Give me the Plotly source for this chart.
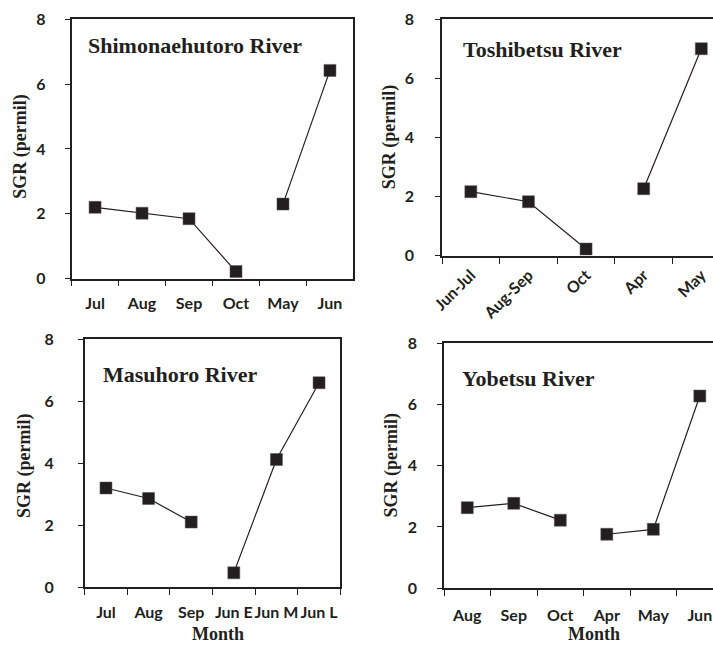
import plotly.graph_objects as go

W, H = 713, 646
# the photographed area is the page from its top-left corner, 16px larger than
# the figure (8px body margin each side), scaled down to 713x646; positions below
# are given in the final picture's pixels and mapped back to figure pixels
OFF = 8
SX = (W + 2 * OFF) / W
SY = (H + 2 * OFF) / H

# ---- data ----
shimo_months = ["Jul", "Aug", "Sep", "Oct", "May", "Jun"]
shimo_sgr = [2.2, 2.02, 1.85, 0.22, 2.3, 6.42]

toshi_months = ["Jun-Jul", "Aug-Sep", "Oct", "Apr", "May"]
toshi_sgr = [2.17, 1.83, 0.23, 2.27, 7.0]

masu_months = ["Jul", "Aug", "Sep", "Jun E", "Jun M", "Jun L"]
masu_sgr = [3.2, 2.86, 2.1, 0.46, 4.12, 6.6]

yobe_months = ["Aug", "Sep", "Oct", "Apr", "May", "Jun"]
yobe_sgr = [2.63, 2.77, 2.22, 1.76, 1.92, 6.28]

# index where the second (next-year) segment starts
shimo_split = 4
toshi_split = 3
masu_split = 3
yobe_split = 3

INK = "#231f20"


def px_x(p):
    return min(1.0, max(0.0, (p * SX - OFF) / W))


def px_y(p):
    return min(1.0, max(0.0, 1 - (p * SY - OFF) / H))


panels = [
    # name, months, values, split, x-domain px, y-domain px, x range end, mirror-right, tickangle, ystandoff, xstandoff
    ("Shimonaehutoro River", shimo_months, shimo_sgr, shimo_split, (68, 348), (17, 278), None, True, 0, 16, 9),
    ("Toshibetsu River", toshi_months, toshi_sgr, toshi_split, (436, 705), (17, 255), 4.2, False, -45, 18, 2),
    ("Masuhoro River", masu_months, masu_sgr, masu_split, (81, 335), (339, 588), None, True, 0, 21, 10),
    ("Yobetsu River", yobe_months, yobe_sgr, yobe_split, (438, 705), (343, 589), 5.28, False, 0, 17, 12),
]

fig = go.Figure()
layout = {}
for i, (name, months, vals, split, xd, yd, xend, mirr, tang, ysto, xsto) in enumerate(panels, start=1):
    xa = "x" if i == 1 else f"x{i}"
    ya = "y" if i == 1 else f"y{i}"
    for seg in (slice(0, split), slice(split, None)):
        fig.add_trace(go.Scatter(
            x=months[seg], y=vals[seg], xaxis=xa, yaxis=ya, mode="lines+markers",
            line=dict(color=INK, width=1.2),
            marker=dict(symbol="square", size=12, color=INK, line=dict(color="#555", width=0.5)),
            showlegend=False, hoverinfo="x+y",
        ))
    n = len(months)
    xr = [-0.5, xend if xend is not None else n - 0.5]
    xkey = "xaxis" if i == 1 else f"xaxis{i}"
    ykey = "yaxis" if i == 1 else f"yaxis{i}"
    layout[xkey] = dict(
        domain=[px_x(xd[0]), px_x(xd[1])], anchor=ya, type="category",
        categoryorder="array", categoryarray=months, range=xr,
        showline=True, linecolor=INK, linewidth=1.5, mirror=True,
        ticks="outside", tickson="boundaries", ticklen=6, tickwidth=1.2, tickcolor=INK,
        showgrid=False, zeroline=False, tickangle=tang,
        tickfont=dict(family="Lato", size=16, color=INK, weight="bold"),
        ticklabelstandoff=xsto,
    )
    layout[ykey] = dict(
        domain=[px_y(yd[1]), px_y(yd[0])], anchor=xa, range=[0, 8],
        tickvals=[0, 2, 4, 6, 8],
        showline=True, linecolor=INK, linewidth=1.5, mirror=mirr,
        ticks="outside", ticklen=5, tickwidth=1.2, tickcolor=INK,
        showgrid=False, zeroline=False,
        tickfont=dict(family="Lato", size=16, color=INK, weight="bold"),
        ticklabelstandoff=ysto,
    )

annotations = []
# panel titles (left edge px, center y px)
title_pos = [(83, 43), (456, 48), (98, 374), (455, 378)]
for (name, *_), (tx, ty) in zip(panels, title_pos):
    annotations.append(dict(
        text=name, x=px_x(tx), y=px_y(ty), xref="paper", yref="paper",
        xanchor="left", yanchor="middle", showarrow=False, borderpad=0,
        font=dict(family="Liberation Serif", size=22, color=INK, weight="bold"),
    ))
# y-axis titles
ytitle_pos = [(17, 145), (384, 136), (21, 466), (386, 466)]
for (tx, ty) in ytitle_pos:
    annotations.append(dict(
        text="SGR (permil)", x=px_x(tx), y=px_y(ty), xref="paper", yref="paper",
        xanchor="center", yanchor="middle", showarrow=False, textangle=-90,
        font=dict(family="Liberation Serif", size=18, color=INK, weight="bold"),
    ))
# x-axis titles
for (tx, ty) in [(213, 635), (587, 635)]:
    annotations.append(dict(
        text="Month", x=px_x(tx), y=px_y(ty), xref="paper", yref="paper",
        xanchor="center", yanchor="middle", showarrow=False,
        font=dict(family="Liberation Serif", size=18, color=INK, weight="bold"),
    ))

fig.update_layout(
    width=W, height=H, margin=dict(l=0, r=0, t=0, b=0),
    paper_bgcolor="white", plot_bgcolor="white",
    annotations=annotations, **layout,
)

fig.write_html("out.html")
